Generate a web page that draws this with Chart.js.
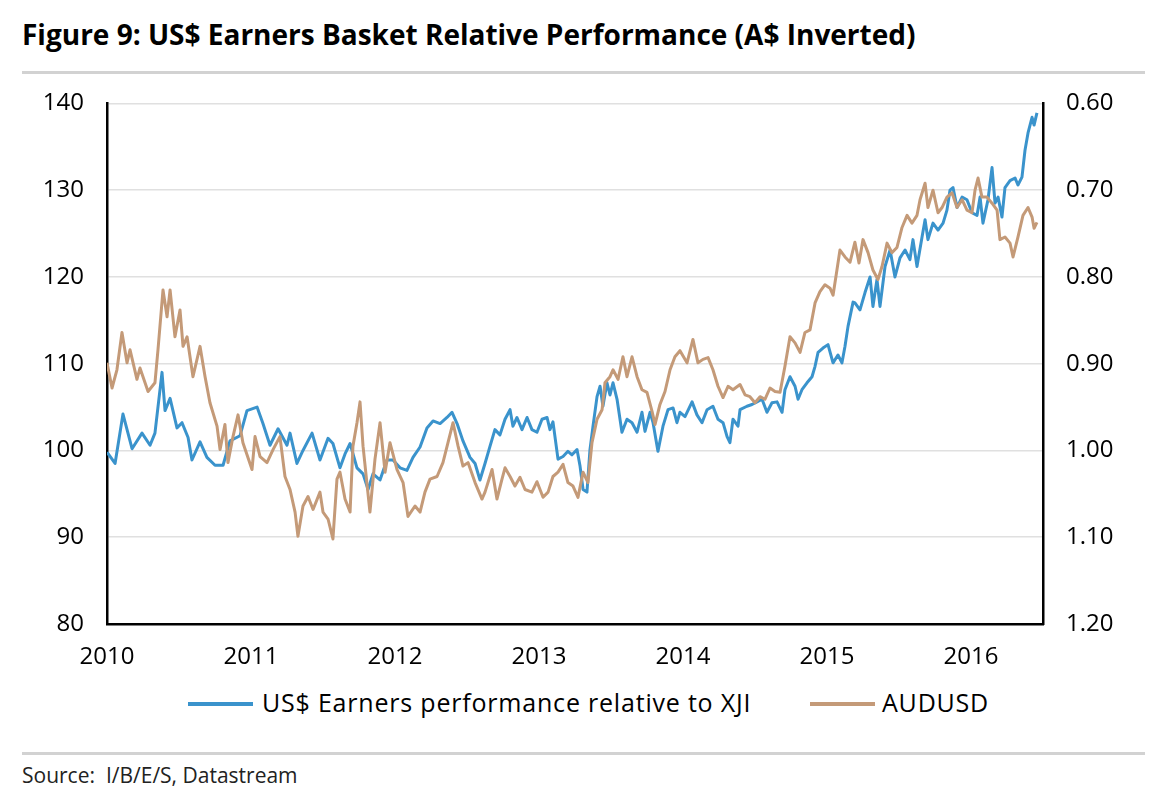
<!DOCTYPE html>
<html>
<head>
<meta charset="utf-8">
<script src="https://cdn.jsdelivr.net/npm/chart.js@4/dist/chart.umd.min.js"></script>
<style>
  html, body { margin: 0; padding: 0; background: #fff; }
  body { width: 1155px; height: 806px; position: relative; overflow: hidden;
         font-family: 'Open Sans', 'Noto Sans', sans-serif; }
  #title { position: absolute; left: 22px; top: 15px; line-height: 38px;
           font-size: 28px; font-weight: bold; color: #000; white-space: nowrap; }
  .rule { position: absolute; left: 22px; width: 1123px; height: 3px; background: #d2d2d2; }
  #source { position: absolute; left: 22px; top: 761px; line-height: 28px;
            font-size: 21px; color: #222; white-space: pre; }
  #wrap { position: absolute; left: 0; top: 66px; width: 1155px; height: 608px; }
  .key { position: absolute; height: 4px; width: 65px; top: 702px; }
  .keytext { position: absolute; top: 685px; line-height: 34px; font-size: 25px;
             letter-spacing: 0.8px; color: #000; white-space: nowrap; }
</style>
</head>
<body>
<div id="title">Figure 9: US$ Earners Basket Relative Performance (A$ Inverted)</div>
<div class="rule" style="top:71px"></div>
<div id="wrap"><canvas id="chart" width="1155" height="608"></canvas></div>
<div id="legend"></div>
<div class="rule" style="top:752px"></div>
<div id="source">Source:  I/B/E/S, Datastream</div>

<script>
// US$ earners basket relative to XJI (left axis)
var earnersYears = [
  2010.000, 2010.056, 2010.111, 2010.174, 2010.243, 2010.299, 2010.333, 2010.382, 2010.403, 2010.438,
  2010.486, 2010.521, 2010.563, 2010.590, 2010.646, 2010.694, 2010.750, 2010.806, 2010.854, 2010.924,
  2010.972, 2011.042, 2011.083, 2011.132, 2011.188, 2011.250, 2011.271, 2011.319, 2011.361, 2011.424,
  2011.479, 2011.535, 2011.569, 2011.618, 2011.653, 2011.688, 2011.736, 2011.778, 2011.813, 2011.847,
  2011.896, 2011.944, 2011.986, 2012.035, 2012.083, 2012.125, 2012.174, 2012.222, 2012.264, 2012.313,
  2012.361, 2012.396, 2012.431, 2012.472, 2012.521, 2012.556, 2012.590, 2012.625, 2012.660, 2012.694,
  2012.729, 2012.764, 2012.799, 2012.819, 2012.847, 2012.882, 2012.917, 2012.951, 2012.986, 2013.021,
  2013.056, 2013.076, 2013.097, 2013.132, 2013.167, 2013.201, 2013.229, 2013.264, 2013.285, 2013.306,
  2013.333, 2013.354, 2013.375, 2013.403, 2013.424, 2013.444, 2013.472, 2013.493, 2013.514, 2013.542,
  2013.576, 2013.611, 2013.646, 2013.681, 2013.715, 2013.736, 2013.771, 2013.792, 2013.826, 2013.861,
  2013.896, 2013.931, 2013.958, 2013.979, 2014.014, 2014.063, 2014.097, 2014.132, 2014.167, 2014.208,
  2014.243, 2014.278, 2014.306, 2014.326, 2014.347, 2014.382, 2014.396, 2014.444, 2014.479, 2014.514,
  2014.549, 2014.583, 2014.618, 2014.653, 2014.688, 2014.708, 2014.743, 2014.778, 2014.799, 2014.826,
  2014.861, 2014.896, 2014.917, 2014.938, 2014.972, 2015.007, 2015.042, 2015.076, 2015.104, 2015.125,
  2015.146, 2015.181, 2015.194, 2015.229, 2015.264, 2015.299, 2015.319, 2015.347, 2015.368, 2015.403,
  2015.438, 2015.472, 2015.507, 2015.542, 2015.576, 2015.597, 2015.625, 2015.660, 2015.681, 2015.701,
  2015.736, 2015.771, 2015.806, 2015.833, 2015.854, 2015.875, 2015.903, 2015.938, 2015.972, 2016.007,
  2016.042, 2016.063, 2016.083, 2016.118, 2016.146, 2016.167, 2016.188, 2016.215, 2016.236, 2016.271,
  2016.306, 2016.326, 2016.354, 2016.375, 2016.396, 2016.424, 2016.438, 2016.458
];
var earnersValues = [
  99.8, 98.5, 104.2, 100.2, 102.0, 100.6, 102.0, 109.0, 104.6, 106.0,
  102.6, 103.2, 101.5, 98.9, 101.0, 99.2, 98.3, 98.3, 101.1, 101.7,
  104.6, 105.0, 103.1, 100.6, 102.5, 100.6, 102.0, 98.5, 100.0, 102.0,
  98.9, 101.4, 100.8, 98.0, 99.6, 100.8, 98.0, 97.3, 95.5, 97.3,
  96.6, 98.9, 98.9, 98.0, 97.7, 99.2, 100.4, 102.6, 103.4, 103.1,
  103.8, 104.4, 103.1, 101.1, 99.2, 98.5, 96.6, 98.5, 100.5, 102.4,
  101.8, 103.6, 104.7, 102.8, 103.8, 102.4, 103.8, 102.4, 102.1, 103.6,
  103.8, 102.4, 103.3, 99.0, 99.3, 99.9, 99.5, 100.1, 98.2, 95.5,
  95.2, 100.1, 102.8, 106.2, 107.4, 105.1, 107.8, 106.4, 107.8, 105.9,
  102.1, 103.6, 103.2, 102.1, 104.4, 102.2, 104.4, 103.2, 99.9, 102.8,
  104.7, 104.9, 103.2, 104.4, 103.9, 105.6, 104.1, 103.2, 104.7, 105.1,
  103.6, 103.2, 101.6, 100.9, 103.6, 102.8, 104.7, 105.1, 105.3, 105.6,
  105.9, 104.4, 105.5, 105.6, 104.4, 107.0, 108.5, 107.4, 105.9, 107.0,
  107.8, 108.5, 109.7, 111.3, 111.8, 112.2, 110.1, 111.0, 110.1, 112.0,
  114.3, 117.1, 117.0, 116.2, 118.2, 120.0, 116.6, 119.7, 116.6, 121.2,
  123.1, 120.0, 122.2, 123.1, 122.0, 124.3, 121.2, 124.6, 126.6, 124.3,
  126.2, 125.4, 126.2, 127.7, 130.0, 130.3, 128.0, 129.2, 128.9, 127.4,
  127.1, 129.2, 126.2, 128.9, 132.6, 128.5, 129.2, 126.9, 130.3, 131.1,
  131.4, 130.6, 131.5, 134.6, 136.6, 138.4, 137.5, 138.9
];

// AUDUSD (right axis, inverted)
var audYears = [
  2010.000, 2010.035, 2010.069, 2010.104, 2010.139, 2010.160, 2010.208, 2010.229, 2010.285, 2010.333,
  2010.354, 2010.389, 2010.417, 2010.438, 2010.472, 2010.507, 2010.528, 2010.556, 2010.597, 2010.646,
  2010.681, 2010.715, 2010.764, 2010.785, 2010.819, 2010.840, 2010.875, 2010.910, 2010.944, 2011.007,
  2011.028, 2011.063, 2011.111, 2011.153, 2011.201, 2011.236, 2011.271, 2011.306, 2011.326, 2011.361,
  2011.396, 2011.431, 2011.479, 2011.500, 2011.535, 2011.569, 2011.597, 2011.618, 2011.653, 2011.688,
  2011.708, 2011.736, 2011.757, 2011.778, 2011.826, 2011.861, 2011.896, 2011.931, 2011.965, 2012.014,
  2012.056, 2012.090, 2012.139, 2012.174, 2012.208, 2012.243, 2012.292, 2012.333, 2012.368, 2012.403,
  2012.438, 2012.472, 2012.507, 2012.556, 2012.604, 2012.625, 2012.674, 2012.708, 2012.743, 2012.764,
  2012.799, 2012.833, 2012.868, 2012.903, 2012.951, 2012.986, 2013.028, 2013.063, 2013.097, 2013.132,
  2013.167, 2013.201, 2013.236, 2013.271, 2013.306, 2013.340, 2013.368, 2013.403, 2013.438, 2013.458,
  2013.493, 2013.514, 2013.549, 2013.583, 2013.611, 2013.646, 2013.681, 2013.715, 2013.750, 2013.785,
  2013.806, 2013.840, 2013.875, 2013.910, 2013.944, 2013.979, 2014.028, 2014.069, 2014.104, 2014.139,
  2014.174, 2014.208, 2014.243, 2014.278, 2014.313, 2014.347, 2014.396, 2014.431, 2014.465, 2014.500,
  2014.535, 2014.569, 2014.604, 2014.639, 2014.674, 2014.708, 2014.743, 2014.778, 2014.813, 2014.847,
  2014.882, 2014.917, 2014.951, 2014.986, 2015.021, 2015.042, 2015.069, 2015.090, 2015.125, 2015.160,
  2015.194, 2015.222, 2015.250, 2015.285, 2015.319, 2015.354, 2015.382, 2015.417, 2015.451, 2015.486,
  2015.521, 2015.556, 2015.590, 2015.625, 2015.646, 2015.681, 2015.701, 2015.736, 2015.771, 2015.799,
  2015.833, 2015.868, 2015.903, 2015.938, 2015.972, 2016.007, 2016.028, 2016.049, 2016.076, 2016.111,
  2016.146, 2016.181, 2016.201, 2016.236, 2016.271, 2016.292, 2016.326, 2016.361, 2016.396, 2016.424,
  2016.438, 2016.458
];
var audValues = [
  0.899, 0.928, 0.907, 0.864, 0.899, 0.884, 0.918, 0.905, 0.932, 0.922,
  0.884, 0.815, 0.846, 0.815, 0.869, 0.838, 0.880, 0.869, 0.915, 0.880,
  0.915, 0.945, 0.972, 0.999, 0.970, 1.014, 0.984, 0.959, 0.991, 1.022,
  0.984, 1.007, 1.014, 0.999, 0.984, 1.030, 1.045, 1.071, 1.099, 1.064,
  1.053, 1.068, 1.048, 1.071, 1.079, 1.102, 1.033, 1.025, 1.056, 1.071,
  0.995, 0.968, 0.944, 0.995, 1.071, 1.010, 0.968, 1.025, 0.991, 1.022,
  1.037, 1.076, 1.064, 1.071, 1.048, 1.033, 1.030, 1.014, 0.991, 0.968,
  0.995, 1.018, 1.014, 1.037, 1.056, 1.048, 1.022, 1.056, 1.033, 1.020,
  1.030, 1.041, 1.031, 1.045, 1.048, 1.036, 1.054, 1.048, 1.030, 1.025,
  1.016, 1.037, 1.041, 1.054, 1.025, 1.037, 0.991, 0.964, 0.953, 0.922,
  0.915, 0.907, 0.918, 0.892, 0.915, 0.892, 0.915, 0.930, 0.933, 0.955,
  0.970, 0.947, 0.932, 0.907, 0.892, 0.885, 0.899, 0.872, 0.899, 0.895,
  0.893, 0.907, 0.926, 0.939, 0.926, 0.930, 0.924, 0.936, 0.938, 0.945,
  0.938, 0.941, 0.928, 0.932, 0.933, 0.903, 0.869, 0.876, 0.887, 0.864,
  0.861, 0.830, 0.817, 0.809, 0.813, 0.821, 0.792, 0.769, 0.777, 0.783,
  0.760, 0.784, 0.757, 0.772, 0.792, 0.803, 0.788, 0.761, 0.772, 0.766,
  0.743, 0.729, 0.738, 0.729, 0.711, 0.692, 0.720, 0.700, 0.726, 0.720,
  0.708, 0.703, 0.720, 0.711, 0.723, 0.726, 0.700, 0.686, 0.708, 0.708,
  0.715, 0.723, 0.757, 0.754, 0.761, 0.777, 0.754, 0.729, 0.720, 0.731,
  0.744, 0.737
];

var yearTicks = [2010, 2011, 2012, 2013, 2014, 2015, 2016];
var leftTicks = [80, 90, 100, 110, 120, 130, 140];
var rightTicks = [0.60, 0.70, 0.80, 0.90, 1.00, 1.10, 1.20];

var blue = "#3a93cc";
var tan = "#c49a78";

function toPoints(xs, ys) {
    var pts = [];
    for (var i = 0; i < xs.length; i++) {
        pts.push({ x: xs[i], y: ys[i] });
    }
    return pts;
}

Chart.defaults.font.family = "'Open Sans', 'Noto Sans', sans-serif";
Chart.defaults.font.size = 24;
Chart.defaults.color = "#000";

var context = document.getElementById("chart");
window.myLine = new Chart(context, {
    type: "line",
    data: {
        datasets: [
            {
                label: "US$ Earners performance relative to XJI",
                data: toPoints(earnersYears, earnersValues),
                yAxisID: "y",
                borderColor: blue,
                backgroundColor: blue,
                borderWidth: 3,
                pointRadius: 0,
                tension: 0,
                borderJoinStyle: "round",
                order: 1
            },
            {
                label: "AUDUSD",
                data: toPoints(audYears, audValues),
                yAxisID: "y1",
                borderColor: tan,
                backgroundColor: tan,
                borderWidth: 3,
                pointRadius: 0,
                tension: 0,
                borderJoinStyle: "round",
                order: 0
            }
        ]
    },
    options: {
        responsive: false,
        animation: false,
        layout: { padding: 0 },
        plugins: {
            tooltip: { enabled: false },
            legend: { display: false }
        },
        scales: {
            x: {
                type: "linear",
                min: 2010,
                max: 2016.5,
                grid: { display: false, drawTicks: false },
                border: { display: true, color: "#000", width: 2.5 },
                ticks: {
                    padding: 19,
                    callback: function(v) { return String(v); }
                },
                afterBuildTicks: function(scale) {
                    scale.ticks = yearTicks.map(function(v) { return { value: v }; });
                },
                afterFit: function(scale) { scale.height = 50; }
            },
            y: {
                position: "left",
                min: 80,
                max: 140,
                grid: { color: "#e0e0e0", lineWidth: 1.5, drawTicks: false },
                border: { display: true, color: "#000", width: 2.5 },
                ticks: { padding: 23 },
                afterBuildTicks: function(scale) {
                    scale.ticks = leftTicks.map(function(v) { return { value: v }; });
                },
                afterFit: function(scale) { scale.width = 107; }
            },
            y1: {
                position: "right",
                reverse: true,
                min: 0.6,
                max: 1.2,
                grid: { display: false, drawTicks: false },
                border: { display: true, color: "#000", width: 2.5 },
                ticks: {
                    padding: 23,
                    callback: function(v) { return Number(v).toFixed(2); }
                },
                afterBuildTicks: function(scale) {
                    scale.ticks = rightTicks.map(function(v) { return { value: v }; });
                },
                afterFit: function(scale) { scale.width = 112; }
            }
        }
    }
});

// legend below the chart, built from the datasets
var keySpots = [[188, 262], [810, 882]];
var legendBox = document.getElementById("legend");
window.myLine.data.datasets.forEach(function(ds, i) {
    var key = document.createElement("div");
    key.className = "key";
    key.style.left = keySpots[i][0] + "px";
    key.style.background = ds.borderColor;
    legendBox.appendChild(key);
    var txt = document.createElement("div");
    txt.className = "keytext";
    txt.style.left = keySpots[i][1] + "px";
    txt.textContent = ds.label;
    legendBox.appendChild(txt);
});
</script>
</body>
</html>
